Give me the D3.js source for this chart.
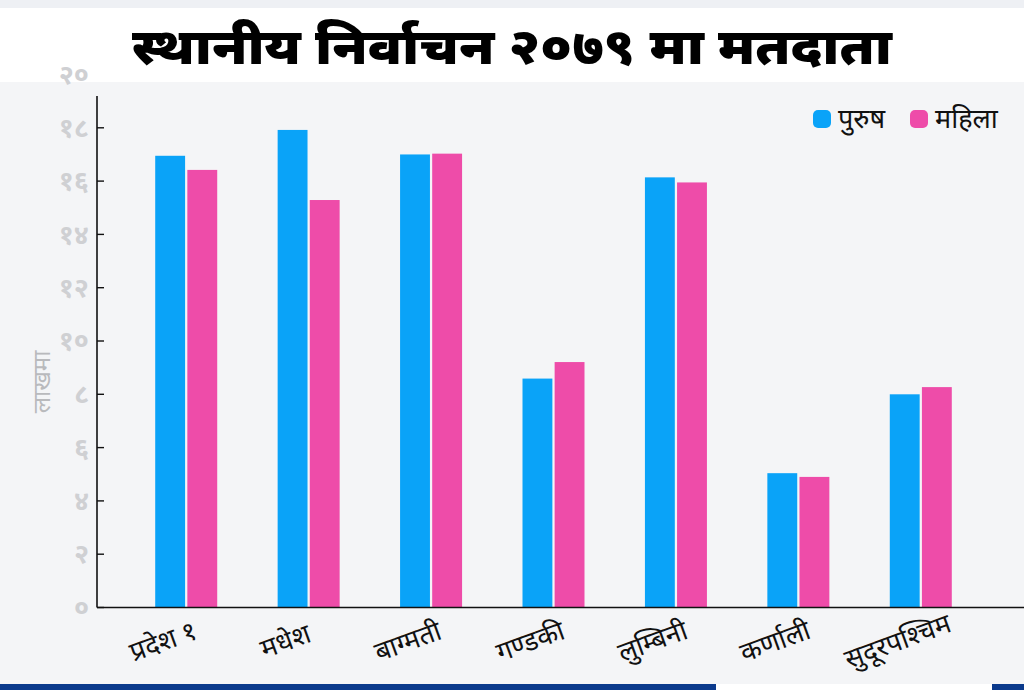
<!DOCTYPE html>
<html><head><meta charset="utf-8">
<script src="https://cdn.jsdelivr.net/npm/d3@7"></script>
<style>body{margin:0;background:#f4f5f7;}svg{display:block;}</style>
</head><body>
<svg id="c" width="1024" height="690"></svg>
<script>
const categories = ["प्रदेश १","मधेश","बाग्मती","गण्डकी","लुम्बिनी","कर्णाली","सुदूरपश्चिम"];
const male   = [16.95, 17.92, 17.00, 8.59, 16.14, 5.04, 8.00];
const female = [16.42, 15.29, 17.03, 9.21, 15.95, 4.90, 8.27];
const seriesNames = ["पुरुष","महिला"];
const tickValues = [0,2,4,6,8,10,12,14,16,18,20];
const tickLabels = ["०","२","४","६","८","१०","१२","१४","१६","१८","२०"];
const titleText = "स्थानीय निर्वाचन २०७९ मा मतदाता";
const yLabel = "लाखमा";
const colors = ["#0aa3f8","#ee4ca9"];

const svg = d3.select("#c");
const F = "'Noto Sans', sans-serif";
// backgrounds
svg.append("rect").attr("x",0).attr("y",0).attr("width",1024).attr("height",690).attr("fill","#f4f5f7");
svg.append("rect").attr("x",0).attr("y",0).attr("width",1024).attr("height",8).attr("fill","#eef0f4");
svg.append("rect").attr("x",0).attr("y",8).attr("width",1024).attr("height",74).attr("fill","#ffffff");
svg.append("rect").attr("x",0).attr("y",684).attr("width",716).attr("height",6).attr("fill","#0b3a8c");
svg.append("rect").attr("x",716).attr("y",684).attr("width",276).attr("height",6).attr("fill","#ffffff");
svg.append("rect").attr("x",992).attr("y",684).attr("width",32).attr("height",6).attr("fill","#0b3a8c");

const y = d3.scaleLinear().domain([0,20]).range([607.5,74.5]);
const x = d3.scaleBand().domain(categories).range([125,982]).padding(0);
const inner = d3.scaleBand().domain(seriesNames).range([-31,31]).paddingInner(0.07);

// y axis labels
const yAxis = d3.axisLeft(y).tickValues(tickValues).tickFormat((d,i)=>tickLabels[i]).tickSize(0).tickPadding(8);
const gy = svg.append("g").attr("transform","translate(97,0)").call(yAxis);
gy.select(".domain").remove();
gy.selectAll("text").attr("font-family",F).attr("font-size",27).attr("font-weight","bold").attr("fill","#cfd0d3").attr("dy","0.32em");
// axis line & ticks
svg.append("line").attr("x1",97).attr("x2",97).attr("y1",96).attr("y2",y(0)).attr("stroke","#111").attr("stroke-width",1.6);
svg.append("g").selectAll("line").data(tickValues.filter(v=>v<20)).join("line")
  .attr("x1",97).attr("x2",104).attr("y1",d=>y(d)).attr("y2",d=>y(d)).attr("stroke","#111").attr("stroke-width",1.4);

// bars
const data = categories.map((c,i)=>({c, vals:[male[i],female[i]]}));
const g = svg.append("g");
data.forEach(d=>{
  g.selectAll(null).data(d.vals).join("rect")
    .attr("x",(v,j)=>x(d.c)+x.bandwidth()/2+inner(seriesNames[j]))
    .attr("width",inner.bandwidth())
    .attr("y",v=>y(v))
    .attr("height",v=>y(0)-y(v))
    .attr("fill",(v,j)=>colors[j]);
});
// x axis line
svg.append("line").attr("x1",97).attr("x2",1024).attr("y1",y(0)).attr("y2",y(0)).attr("stroke","#111").attr("stroke-width",1.6);

// x labels
svg.append("g").selectAll("text").data(categories).join("text")
  .attr("transform",d=>`translate(${x(d)+x.bandwidth()/2-20},650) rotate(-20)`)
  .attr("text-anchor","middle").attr("font-family",F).attr("font-size",27).attr("fill","#111").text(d=>d);

// y label
svg.append("text").attr("transform","translate(50,382) rotate(-90)").attr("text-anchor","middle")
  .attr("font-family",F).attr("font-size",24).attr("fill","#b9babd").text(yLabel);

// title
svg.append("text").attr("x",512).attr("y",64).attr("text-anchor","middle")
  .attr("font-family",F).attr("font-weight","900").attr("font-size",50).attr("fill","#000")
  .attr("textLength",760).attr("lengthAdjust","spacingAndGlyphs").text(titleText);

// legend
const leg = svg.append("g");
const legX = [813, 910];
seriesNames.forEach((s,i)=>{
  leg.append("rect").attr("x",legX[i]).attr("y",110).attr("width",18).attr("height",18).attr("rx",5).attr("fill",colors[i]);
  leg.append("text").attr("x",legX[i]+25).attr("y",128).attr("font-family",F).attr("font-size",27).attr("fill","#111").text(s);
});
</script>
</body></html>
